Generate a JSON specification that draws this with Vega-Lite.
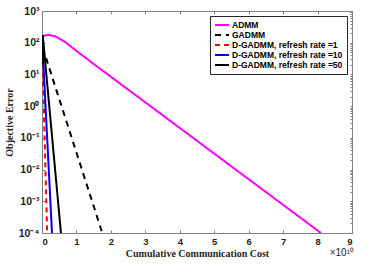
{
  "$schema": "https://vega.github.io/schema/vega-lite/v6.json",
  "width": 310,
  "height": 222,
  "autosize": "none",
  "padding": {"left": 42, "top": 11, "right": 22, "bottom": 32},
  "background": "white",
  "config": {
    "view": {"stroke": "#7f7f7f", "strokeWidth": 1},
    "axis": {"domainColor": "#7f7f7f", "tickColor": "#7f7f7f", "grid": false, "labelFont": "Liberation Sans", "labelFontWeight": "bold", "labelFontSize": 9.5, "labelColor": "#262626", "titleFont": "Liberation Serif", "titleFontWeight": "bold", "titleFontSize": 10, "titleColor": "#262626"}
  },
  "data": {
    "values": [
      {"s": "ADMM", "x": 0, "y": 151},
      {"s": "ADMM", "x": 0.1, "y": 172},
      {"s": "ADMM", "x": 0.2, "y": 175},
      {"s": "ADMM", "x": 0.4, "y": 158},
      {"s": "ADMM", "x": 0.7, "y": 100},
      {"s": "ADMM", "x": 1.0, "y": 55},
      {"s": "ADMM", "x": 1.5, "y": 21.4},
      {"s": "ADMM", "x": 8.1, "y": 0.0001},
      {"s": "GADMM", "x": 0, "y": 158},
      {"s": "GADMM", "x": 0.05, "y": 56},
      {"s": "GADMM", "x": 1.75, "y": 0.0001},
      {"s": "D-GADMM, refresh rate =1", "x": 0, "y": 158},
      {"s": "D-GADMM, refresh rate =1", "x": 0.02, "y": 20},
      {"s": "D-GADMM, refresh rate =1", "x": 0.15, "y": 0.0001},
      {"s": "D-GADMM, refresh rate =10", "x": 0, "y": 158},
      {"s": "D-GADMM, refresh rate =10", "x": 0.29, "y": 0.0001},
      {"s": "D-GADMM, refresh rate =50", "x": 0, "y": 158},
      {"s": "D-GADMM, refresh rate =50", "x": 0.01, "y": 20},
      {"s": "D-GADMM, refresh rate =50", "x": 0.02, "y": 178},
      {"s": "D-GADMM, refresh rate =50", "x": 0.55, "y": 0.0001}
    ]
  },
  "resolve": {"axis": {"x": "independent", "y": "independent"}},
  "layer": [
    {
      "mark": {"type": "line", "strokeWidth": 2, "clip": true},
      "encoding": {
        "x": {"field": "x", "type": "quantitative", "scale": {"domain": [0, 9], "nice": false}, "axis": {"title": "Cumulative Communication Cost", "values": [0,1,2,3,4,5,6,7,8,9], "tickSize": -3, "labelPadding": 6, "titlePadding": 3, "domain": false}},
        "y": {"field": "y", "type": "quantitative", "scale": {"type": "log", "domain": [0.0001, 1000], "nice": false}, "axis": {"title": "Objective Error", "values": [0.0001, 0.001, 0.01, 0.1, 1, 10, 100, 1000], "tickSize": -3, "labelPadding": 6, "titlePadding": 4, "labelFontSize": 10.5, "domain": false, "labelExpr": "datum.value > 500 ? '10³' : datum.value > 50 ? '10²' : datum.value > 5 ? '10¹' : datum.value > 0.5 ? '10⁰' : datum.value > 0.05 ? '10⁻¹' : datum.value > 0.005 ? '10⁻²' : datum.value > 0.0005 ? '10⁻³' : '10⁻⁴'"}},
        "color": {"field": "s", "type": "nominal", "sort": null, "scale": {"domain": ["ADMM", "GADMM", "D-GADMM, refresh rate =1", "D-GADMM, refresh rate =10", "D-GADMM, refresh rate =50"], "range": ["#ff00ff", "#000000", "#ff0000", "#0000ff", "#000000"]},
          "legend": {"title": null, "orient": "top-right", "offset": 5, "symbolType": "stroke", "symbolSize": 196, "symbolStrokeWidth": 2, "labelFont": "Liberation Sans", "labelFontWeight": "bold", "labelFontSize": 8.5, "labelColor": "#000", "fillColor": "white", "strokeColor": "#262626", "padding": 4, "rowPadding": 0, "clipHeight": 10, "labelOffset": 2}},
        "strokeDash": {"field": "s", "type": "nominal", "sort": null, "scale": {"domain": ["ADMM", "GADMM", "D-GADMM, refresh rate =1", "D-GADMM, refresh rate =10", "D-GADMM, refresh rate =50"], "range": [[1,0], [6,5], [5,4], [1,0], [1,0]]}, "legend": null},
        "order": {"field": "x", "type": "quantitative"}
      }
    },
    {
      "mark": {"type": "line", "opacity": 0},
      "encoding": {
        "x": {"field": "x", "type": "quantitative", "axis": {"orient": "top", "title": null, "labels": false, "values": [0,1,2,3,4,5,6,7,8,9], "tickSize": -3, "domain": false}},
        "y": {"field": "y", "type": "quantitative", "axis": {"orient": "right", "title": null, "labels": false, "values": [0.0001, 0.0002, 0.0003, 0.0004, 0.0005, 0.0006, 0.0007, 0.0008, 0.0009, 0.001, 0.002, 0.003, 0.004, 0.005, 0.006, 0.007, 0.008, 0.009, 0.01, 0.02, 0.03, 0.04, 0.05, 0.06, 0.07, 0.08, 0.09, 0.1, 0.2, 0.3, 0.4, 0.5, 0.6, 0.7, 0.8, 0.9, 1, 2, 3, 4, 5, 6, 7, 8, 9, 10, 20, 30, 40, 50, 60, 70, 80, 90, 100, 200, 300, 400, 500, 600, 700, 800, 900, 1000], "tickSize": -2, "domain": false}},
        "detail": {"field": "s"}
      }
    },
    {
      "data": {"values": [{"x": 9, "y": 0.0001, "t": "×10¹⁰"}]},
      "mark": {"type": "text", "align": "right", "baseline": "top", "dy": 15, "dx": 2, "font": "Liberation Sans", "fontSize": 10, "color": "#262626"},
      "encoding": {
        "x": {"field": "x", "type": "quantitative", "axis": null},
        "y": {"field": "y", "type": "quantitative", "axis": null},
        "text": {"field": "t"}
      }
    }
  ]
}
